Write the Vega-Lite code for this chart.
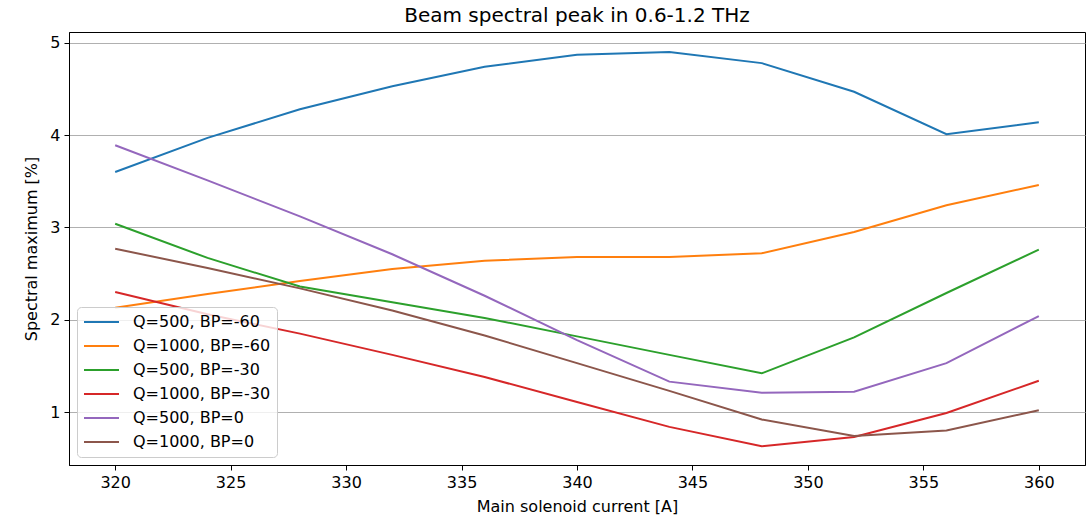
{
  "$schema": "https://vega.github.io/schema/vega-lite/v6.json",
  "width": 1016,
  "height": 433,
  "autosize": {"type": "none"},
  "padding": {"left": 69, "top": 32, "right": 1, "bottom": 54},
  "background": "white",
  "config": {
    "font": "DejaVu Sans",
    "view": {"stroke": "black", "strokeWidth": 1},
    "axis": {"labelFont": "DejaVu Sans", "titleFont": "DejaVu Sans", "labelFontSize": 16, "titleFontSize": 16, "titleFontWeight": "normal", "labelColor": "black", "titleColor": "black", "tickColor": "black", "domainColor": "black", "tickSize": 5}
  },
  "title": {"text": "Beam spectral peak in 0.6-1.2 THz", "font": "DejaVu Sans", "fontSize": 20, "fontWeight": "normal", "offset": 6, "color": "black"},
  "data": {"values": [
    {"s": "Q=500, BP=-60", "x": 320, "y": 3.60}, {"s": "Q=500, BP=-60", "x": 324, "y": 3.97}, {"s": "Q=500, BP=-60", "x": 328, "y": 4.28}, {"s": "Q=500, BP=-60", "x": 332, "y": 4.53}, {"s": "Q=500, BP=-60", "x": 336, "y": 4.74}, {"s": "Q=500, BP=-60", "x": 340, "y": 4.87}, {"s": "Q=500, BP=-60", "x": 344, "y": 4.90}, {"s": "Q=500, BP=-60", "x": 348, "y": 4.78}, {"s": "Q=500, BP=-60", "x": 352, "y": 4.47}, {"s": "Q=500, BP=-60", "x": 356, "y": 4.01}, {"s": "Q=500, BP=-60", "x": 360, "y": 4.14},
    {"s": "Q=1000, BP=-60", "x": 320, "y": 2.13}, {"s": "Q=1000, BP=-60", "x": 324, "y": 2.28}, {"s": "Q=1000, BP=-60", "x": 328, "y": 2.42}, {"s": "Q=1000, BP=-60", "x": 332, "y": 2.55}, {"s": "Q=1000, BP=-60", "x": 336, "y": 2.64}, {"s": "Q=1000, BP=-60", "x": 340, "y": 2.68}, {"s": "Q=1000, BP=-60", "x": 344, "y": 2.68}, {"s": "Q=1000, BP=-60", "x": 348, "y": 2.72}, {"s": "Q=1000, BP=-60", "x": 352, "y": 2.95}, {"s": "Q=1000, BP=-60", "x": 356, "y": 3.24}, {"s": "Q=1000, BP=-60", "x": 360, "y": 3.46},
    {"s": "Q=500, BP=-30", "x": 320, "y": 3.04}, {"s": "Q=500, BP=-30", "x": 324, "y": 2.67}, {"s": "Q=500, BP=-30", "x": 328, "y": 2.36}, {"s": "Q=500, BP=-30", "x": 332, "y": 2.19}, {"s": "Q=500, BP=-30", "x": 336, "y": 2.02}, {"s": "Q=500, BP=-30", "x": 340, "y": 1.82}, {"s": "Q=500, BP=-30", "x": 344, "y": 1.62}, {"s": "Q=500, BP=-30", "x": 348, "y": 1.42}, {"s": "Q=500, BP=-30", "x": 352, "y": 1.81}, {"s": "Q=500, BP=-30", "x": 356, "y": 2.29}, {"s": "Q=500, BP=-30", "x": 360, "y": 2.76},
    {"s": "Q=1000, BP=-30", "x": 320, "y": 2.30}, {"s": "Q=1000, BP=-30", "x": 324, "y": 2.06}, {"s": "Q=1000, BP=-30", "x": 328, "y": 1.85}, {"s": "Q=1000, BP=-30", "x": 332, "y": 1.62}, {"s": "Q=1000, BP=-30", "x": 336, "y": 1.38}, {"s": "Q=1000, BP=-30", "x": 340, "y": 1.11}, {"s": "Q=1000, BP=-30", "x": 344, "y": 0.84}, {"s": "Q=1000, BP=-30", "x": 348, "y": 0.63}, {"s": "Q=1000, BP=-30", "x": 352, "y": 0.73}, {"s": "Q=1000, BP=-30", "x": 356, "y": 0.99}, {"s": "Q=1000, BP=-30", "x": 360, "y": 1.34},
    {"s": "Q=500, BP=0", "x": 320, "y": 3.89}, {"s": "Q=500, BP=0", "x": 324, "y": 3.51}, {"s": "Q=500, BP=0", "x": 328, "y": 3.12}, {"s": "Q=500, BP=0", "x": 332, "y": 2.71}, {"s": "Q=500, BP=0", "x": 336, "y": 2.26}, {"s": "Q=500, BP=0", "x": 340, "y": 1.78}, {"s": "Q=500, BP=0", "x": 344, "y": 1.33}, {"s": "Q=500, BP=0", "x": 348, "y": 1.21}, {"s": "Q=500, BP=0", "x": 352, "y": 1.22}, {"s": "Q=500, BP=0", "x": 356, "y": 1.53}, {"s": "Q=500, BP=0", "x": 360, "y": 2.04},
    {"s": "Q=1000, BP=0", "x": 320, "y": 2.77}, {"s": "Q=1000, BP=0", "x": 324, "y": 2.56}, {"s": "Q=1000, BP=0", "x": 328, "y": 2.34}, {"s": "Q=1000, BP=0", "x": 332, "y": 2.10}, {"s": "Q=1000, BP=0", "x": 336, "y": 1.83}, {"s": "Q=1000, BP=0", "x": 340, "y": 1.53}, {"s": "Q=1000, BP=0", "x": 344, "y": 1.23}, {"s": "Q=1000, BP=0", "x": 348, "y": 0.92}, {"s": "Q=1000, BP=0", "x": 352, "y": 0.74}, {"s": "Q=1000, BP=0", "x": 356, "y": 0.80}, {"s": "Q=1000, BP=0", "x": 360, "y": 1.02}
  ]},
  "mark": {"type": "line", "strokeWidth": 2, "clip": true},
  "encoding": {
    "x": {"field": "x", "type": "quantitative", "scale": {"domain": [318, 362], "nice": false, "zero": false},
      "axis": {"title": "Main solenoid current [A]", "values": [320, 325, 330, 335, 340, 345, 350, 355, 360], "grid": false, "labelPadding": 4, "titlePadding": 8}},
    "y": {"field": "y", "type": "quantitative", "scale": {"domain": [0.427, 5.117], "nice": false, "zero": false},
      "axis": {"title": "Spectral maximum [%]", "values": [1, 2, 3, 4, 5], "grid": true, "gridColor": "#b0b0b0", "gridWidth": 1, "labelPadding": 4, "titlePadding": 10}},
    "color": {"field": "s", "type": "nominal", "sort": null,
      "scale": {"domain": ["Q=500, BP=-60", "Q=1000, BP=-60", "Q=500, BP=-30", "Q=1000, BP=-30", "Q=500, BP=0", "Q=1000, BP=0"],
                "range": ["#1f77b4", "#ff7f0e", "#2ca02c", "#d62728", "#9467bd", "#8c564b"]},
      "legend": {"title": null, "orient": "none", "legendX": 8, "legendY": 275, "symbolType": "stroke", "symbolSize": 1225, "symbolStrokeWidth": 2, "clipHeight": 18, "labelFontSize": 16, "labelFont": "DejaVu Sans", "labelColor": "black", "rowPadding": 6, "fillColor": "rgba(255,255,255,0.8)", "strokeColor": "#cccccc", "cornerRadius": 4, "padding": 6, "labelOffset": 13}}
  }
}
